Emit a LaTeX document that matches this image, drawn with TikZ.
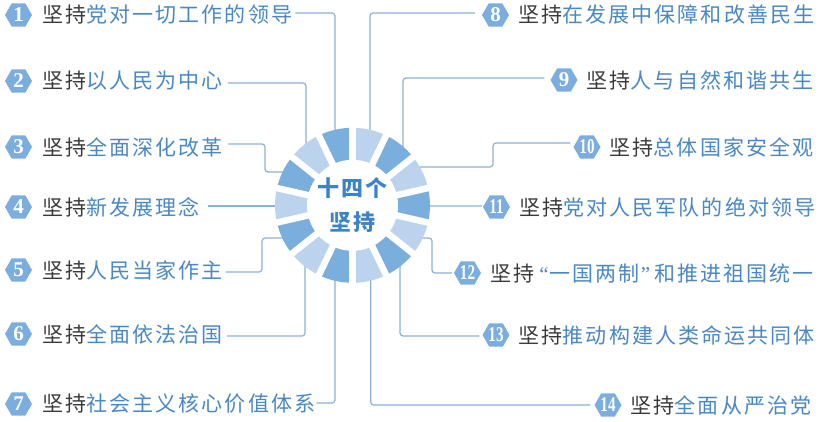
\documentclass[tikz,border=0pt]{standalone}
\usepackage{fontspec}
\usepackage{graphicx}
\usetikzlibrary{shapes.geometric,calc}
\newfontfamily\cjk{Noto Sans CJK SC}[LetterSpace=10]
\newfontfamily\numf{Liberation Serif}
\definecolor{segdark}{HTML}{7AAEDD}
\definecolor{seglight}{HTML}{BCD3EE}
\definecolor{badgec}{HTML}{7BAEDF}
\definecolor{connc}{HTML}{8DB2DA}
\definecolor{txtblue}{HTML}{4A88C5}
\definecolor{keygray}{HTML}{3A3A3A}
\definecolor{ctrblue}{HTML}{3C84C6}
\newcommand\jc[1]{{\color{keygray}坚持}{\color{txtblue}#1}}
\newcommand\tw[1]{\scalebox{0.72}[1]{#1}}
\newcommand\myopenq{{\numf\kern5pt “\kern1pt}}
\newcommand\myclosq{{\numf\kern1pt ”\kern4pt}}
\begin{document}
\begin{tikzpicture}[x=1pt,y=-1pt,
  badge/.style={regular polygon, regular polygon sides=6, minimum size=27pt, inner sep=0pt,
    fill=badgec, text=white, font=\numf\bfseries\fontsize{21}{21}\selectfont},
  txt/.style={inner sep=0pt, anchor=west, font=\cjk\fontsize{21}{21}\selectfont},
  ctr/.style={inner sep=0pt, text=ctrblue, font=\cjk\bfseries\fontsize{22}{22}\selectfont},
  conn/.style={draw=connc, line width=1.2pt, rounded corners=3pt}]
\useasboundingbox (0,0) rectangle (821,422);
\fill[white] (0,0) rectangle (821,422);

% left items
\node[badge] (b1) at (18.5,15) {1};
\node[badge] (b2) at (18.5,81) {2};
\node[badge] (b3) at (18.5,147) {3};
\node[badge] (b4) at (18.5,207) {4};
\node[badge] (b5) at (18.5,270) {5};
\node[badge] (b6) at (18.5,334) {6};
\node[badge] (b7) at (18.5,404) {7};
\node[txt] (t1) at ([xshift=23.5pt]b1.center) {\jc{党对一切工作的领导}};
\node[txt] (t2) at ([xshift=23.5pt]b2.center) {\jc{以人民为中心}};
\node[txt] (t3) at ([xshift=23.5pt]b3.center) {\jc{全面深化改革}};
\node[txt] (t4) at ([xshift=23.5pt]b4.center) {\jc{新发展理念}};
\node[txt] (t5) at ([xshift=23.5pt]b5.center) {\jc{人民当家作主}};
\node[txt] (t6) at ([xshift=23.5pt]b6.center) {\jc{全面依法治国}};
\node[txt] (t7) at ([xshift=23.5pt]b7.center) {\jc{社会主义核心价值体系}};

% right items
\node[badge] (b8) at (495.5,15) {8};
\node[badge] (b9) at (564,80) {9};
\node[badge] (b10) at (587,147) {\tw{10}};
\node[badge] (b11) at (496.5,207) {\tw{11}};
\node[badge] (b12) at (467.5,273) {\tw{12}};
\node[badge] (b13) at (496,335) {\tw{13}};
\node[badge] (b14) at (608,405) {\tw{14}};
\node[txt] (t8) at ([xshift=22.5pt]b8.center) {\jc{在发展中保障和改善民生}};
\node[txt] (t9) at ([xshift=22.5pt]b9.center) {\jc{人与自然和谐共生}};
\node[txt] (t10) at ([xshift=22.5pt]b10.center) {\jc{总体国家安全观}};
\node[txt] (t11) at ([xshift=22.5pt]b11.center) {\jc{党对人民军队的绝对领导}};
\node[txt] (t12) at ([xshift=22.5pt]b12.center) {\jc{\myopenq 一国两制\myclosq 和推进祖国统一}};
\node[txt] (t13) at ([xshift=22.5pt]b13.center) {\jc{推动构建人类命运共同体}};
\node[txt] (t14) at ([xshift=22.5pt]b14.center) {\jc{全面从严治党}};

% ring end points
\coordinate (r1) at (335,150);
\coordinate (r2) at (306,155);
\coordinate (k3) at (265,172);
\coordinate (r3) at (290,172);
\coordinate (r4) at (285,206);
\coordinate (k5) at (262,238);
\coordinate (r5) at (290,238);
\coordinate (r6) at (305,255);
\coordinate (r7) at (335,260);
\coordinate (r8) at (370,150);
\coordinate (r9) at (403,160);
\coordinate (r10) at (415,167);
\coordinate (k10) at (493,143);
\coordinate (r11) at (420,206);
\coordinate (r12) at (415,238);
\coordinate (k12) at (432,273);
\coordinate (r13) at (400,255);
\coordinate (r14) at (370.7,260);

% connectors
\draw[conn] ($(t1.east)+(3,-2)$) -| (r1);
\draw[conn] ($(t2.east)+(5,2)$) -| (r2);
\draw[conn] ($(t3.east)+(5,-3)$) -| (k3) -- (r3);
\draw[conn] ($(t4.east)+(8,-1)$) -- (r4);
\draw[conn] ($(t5.east)+(3,2)$) -| (k5) -- (r5);
\draw[conn] ($(t6.east)+(4,2)$) -| (r6);
\draw[conn] ($(t7.east)+(1,-1)$) -| (r7);
\draw[conn] (r8) |- ($(b8.west)+(-7,-2)$);
\draw[conn] (r9) |- ($(b9.west)+(-6,-2)$);
\draw[conn] (r10) -| (k10) -- ($(b10.west)+(-3,-4)$);
\draw[conn] (r11) -- ($(b11.west)+(-1,-1)$);
\draw[conn] (r12) -| (k12) -- ($(b12.west)+(-2,0)$);
\draw[conn] (r13) |- ($(b13.west)+(-3,1)$);
\draw[conn] (r14) |- ($(b14.west)+(-4,0)$);

% ring
\begin{scope}[shift={(352.5,205.3)}, y=1pt]
  \foreach \k in {0,2,...,12} {
    \pgfmathsetmacro\a{90-\k*25.7142857}
    \pgfmathsetmacro\b{\a-25.7142857}
    \pgfmathsetmacro\c{\b-25.7142857}
    \fill[seglight] (0,0) -- (\a:77.5) arc[start angle=\a, end angle=\b, radius=77.5] -- cycle;
    \fill[segdark] (0,0) -- (\b:77.5) arc[start angle=\b, end angle=\c, radius=77.5] -- cycle;
  }
  \foreach \k in {0,...,13} {
    \draw[white, line width=6.5pt] (0,0) -- ({90-\k*25.7142857}:80);
  }
  \fill[white] (0,0) circle (45.5);
\end{scope}

\node[ctr] (c1) at (352.5,188) {十四个};
\node[ctr] (c2) at (352.5,222) {坚持};
\end{tikzpicture}
\end{document}
